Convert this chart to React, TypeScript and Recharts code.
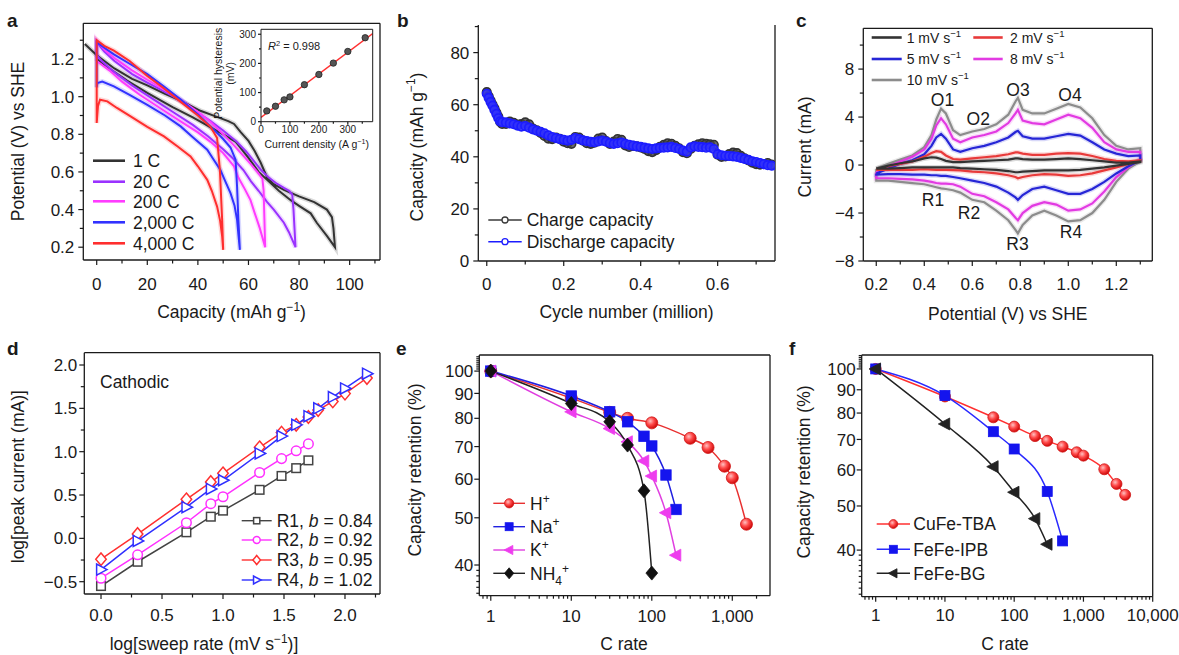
import { LineChart, Line, XAxis, YAxis } from 'recharts'

const FONT = '"Liberation Sans", Arial, Helvetica, sans-serif'
const INK = '#1a1a1a'

// ---------- a: voltage profiles, each a loop (upper branch, then lower branch back) ----------
const cap1C = [-4.7, 0, 7, 14, 20, 27, 33, 41, 47, 52, 54.3, 57, 60, 62.5, 64.8, 67.4, 70, 74, 80, 86, 91, 93, 93.6, 94.2, 91, 87, 84.6, 80, 76.7, 72, 68, 64, 60, 55, 50, 44, 38, 30, 20, 12, 5, 0]
const v1C = [1.28, 1.22, 1.15, 1.095, 1.06, 1.015, 0.98, 0.925, 0.895, 0.87, 0.855, 0.81, 0.765, 0.71, 0.65, 0.57, 0.535, 0.505, 0.47, 0.44, 0.4, 0.36, 0.3, 0.2, 0.26, 0.33, 0.38, 0.42, 0.45, 0.5, 0.55, 0.6, 0.675, 0.76, 0.8, 0.845, 0.89, 0.945, 1.02, 1.085, 1.15, 1.2]
const cap20C = [0, 0, 3, 7, 14, 20, 27, 33, 40, 45, 50, 55, 59, 62, 65, 68, 71, 74, 76, 77.3, 77.8, 78.2, 78.6, 76, 74, 70, 67.4, 64, 61, 58, 54, 50, 44, 38, 30, 22, 14, 7, 2, 0]
const v20C = [1.22, 1.29, 1.24, 1.19, 1.12, 1.075, 1.025, 0.98, 0.915, 0.87, 0.82, 0.765, 0.71, 0.66, 0.61, 0.57, 0.54, 0.515, 0.5, 0.48, 0.4, 0.3, 0.2, 0.28, 0.33, 0.4, 0.44, 0.5, 0.55, 0.61, 0.67, 0.72, 0.79, 0.85, 0.92, 0.99, 1.06, 1.13, 1.19, 1.22]
const cap200C = [0, 0, 3, 7, 14, 20, 27, 33, 40, 45, 50, 54, 58, 61, 63.5, 65.5, 66, 66.3, 66.6, 64.5, 62.5, 60.8, 58.5, 56, 54.3, 50, 45, 40, 33, 25, 17, 10, 5, 0]
const v200C = [1.19, 1.3, 1.25, 1.205, 1.14, 1.09, 1.035, 0.985, 0.92, 0.865, 0.8, 0.745, 0.685, 0.64, 0.6, 0.565, 0.5, 0.35, 0.2, 0.3, 0.38, 0.45, 0.51, 0.57, 0.63, 0.7, 0.76, 0.81, 0.87, 0.94, 1.01, 1.08, 1.14, 1.19]
const cap2000C = [0, 0, 3, 6.8, 13, 20, 27, 33.2, 40, 46.3, 50, 52.9, 54.9, 55.5, 56, 56.6, 56, 55.5, 54.5, 52.9, 50.5, 48.9, 46, 43.7, 38, 33.2, 27, 20, 13, 6.8, 2.2, 0.3, 0]
const v2000C = [1.05, 1.29, 1.26, 1.225, 1.175, 1.12, 1.05, 0.985, 0.905, 0.825, 0.775, 0.73, 0.665, 0.52, 0.35, 0.186, 0.27, 0.345, 0.42, 0.487, 0.56, 0.611, 0.67, 0.718, 0.785, 0.842, 0.9, 0.957, 1.01, 1.055, 1.08, 1.072, 1.05]
const cap4000C = [0, 0, 3, 6.8, 13, 20, 26, 33, 40, 45, 47.6, 48.7, 49.6, 50, 49.6, 48.8, 47.6, 45.5, 43.7, 40, 37.1, 32, 26.6, 20, 13.4, 8, 4.2, 1.3, 0.5, 0]
const v4000C = [0.86, 1.3, 1.27, 1.245, 1.19, 1.11, 1.05, 0.975, 0.9, 0.84, 0.78, 0.61, 0.345, 0.186, 0.257, 0.34, 0.416, 0.5, 0.558, 0.63, 0.682, 0.735, 0.789, 0.84, 0.895, 0.94, 0.975, 0.984, 0.95, 0.86]

// inset: hysteresis vs current density
const insetJ = [20, 50, 80, 100, 150, 200, 250, 300, 360]
const insetH = [37, 53, 75, 85, 127, 162, 201, 241, 288]
const fitJ = [0, 386]
const fitH = [15, 302]

// ---------- b: cycling ----------
const bCycle = [0, 0.005, 0.01, 0.015, 0.02, 0.025, 0.03, 0.035, 0.04, 0.05, 0.06, 0.07, 0.08, 0.09, 0.1, 0.11, 0.12, 0.13, 0.14, 0.15, 0.16, 0.17, 0.18, 0.19, 0.2, 0.21, 0.22, 0.23, 0.24, 0.25, 0.26, 0.27, 0.28, 0.29, 0.3, 0.31, 0.32, 0.33, 0.34, 0.35, 0.36, 0.37, 0.38, 0.39, 0.4, 0.41, 0.42, 0.43, 0.44, 0.45, 0.46, 0.47, 0.48, 0.49, 0.5, 0.51, 0.52, 0.53, 0.54, 0.55, 0.56, 0.57, 0.58, 0.59, 0.6, 0.61, 0.62, 0.63, 0.64, 0.65, 0.66, 0.67, 0.68, 0.69, 0.7, 0.71, 0.72, 0.73, 0.74]
const bCharge = [64.8, 63.2, 61.6, 60.0, 58.6, 57.0, 55.4, 53.4, 52.6,
  52.6, 53.5, 53.0, 52.4, 52.6, 53.2, 52.5, 50.8, 50.2, 49.2,
  48.0, 47.0, 46.8, 47.4, 46.9, 45.8, 45.2, 45.0, 47.6, 47.4,
  46.2, 45.2, 45.0, 45.4, 47.0, 47.4, 46.0, 45.0, 45.8, 46.8,
  46.5, 44.4, 43.8, 44.2, 44.0, 43.6, 43.0, 42.2, 41.8, 42.6,
  43.8, 44.6, 45.2, 45.0, 44.2, 43.2, 41.8, 41.4, 43.0, 44.2,
  44.8, 45.2, 45.0, 44.8, 44.6, 40.8, 40.0, 40.2, 41.0, 41.6,
  41.4, 40.4, 39.4, 38.6, 37.8, 37.2, 37.0, 37.2, 37.6, 37.0]
const bDischarge = [64.2, 62.6, 61.0, 59.6, 58.0, 56.4, 54.8, 53.6, 53.3,
  53.2, 52.8, 52.5, 52.0, 51.6, 51.8, 51.2, 50.5, 50.0, 49.6,
  49.0, 48.2, 47.6, 47.2, 46.8, 46.5, 46.2, 46.5, 47.2, 46.8,
  46.3, 46.0, 45.7, 45.6, 45.9, 46.2, 45.8, 45.3, 45.0, 45.2,
  45.5, 45.0, 44.6, 44.3, 44.0, 43.8, 43.5, 43.2, 43.0, 43.2,
  43.4, 43.5, 43.6, 43.8, 43.4, 43.0, 42.4, 42.0, 43.6, 44.0,
  43.8, 43.7, 43.5, 43.6, 43.0, 41.0, 40.6, 40.4, 40.3, 40.2,
  40.0, 39.6, 39.2, 38.8, 38.3, 38.0, 37.6, 37.2, 36.8, 36.6]

// ---------- c: CV, anodic (up) and cathodic (dn) currents on one potential grid ----------
const cvV = [0.2, 0.25, 0.3, 0.35, 0.4, 0.43, 0.45, 0.47, 0.49, 0.52, 0.55, 0.6, 0.65, 0.7, 0.75, 0.78, 0.79, 0.81, 0.85, 0.9, 0.95, 1.0, 1.05, 1.1, 1.15, 1.2, 1.25, 1.3]
const cv1Up = [-0.3, -0.05, 0.15, 0.3, 0.55, 0.65, 0.62, 0.5, 0.35, 0.25, 0.25, 0.3, 0.35, 0.4, 0.45, 0.55, 0.55, 0.5, 0.45, 0.45, 0.5, 0.55, 0.5, 0.4, 0.3, 0.2, 0.2, 0.3]
const cv1Dn = [-0.3, -0.3, -0.25, -0.2, -0.2, -0.2, -0.2, -0.2, -0.2, -0.2, -0.25, -0.3, -0.35, -0.4, -0.5, -0.6, -0.6, -0.55, -0.5, -0.45, -0.45, -0.45, -0.4, -0.3, -0.2, -0.05, 0.1, 0.25]
const cv2Up = [-0.4, -0.1, 0.1, 0.3, 0.7, 1.0, 1.15, 1.1, 0.8, 0.5, 0.45, 0.55, 0.65, 0.75, 0.9, 1.05, 1.05, 0.95, 0.85, 0.85, 0.95, 1.0, 0.95, 0.75, 0.5, 0.35, 0.3, 0.4]
const cv2Dn = [-0.4, -0.4, -0.4, -0.4, -0.35, -0.38, -0.4, -0.4, -0.4, -0.42, -0.45, -0.55, -0.6, -0.7, -0.85, -1.0, -1.1, -1.0, -0.85, -0.75, -0.8, -0.9, -0.85, -0.7, -0.45, -0.2, 0.1, 0.35]
const cv5Up = [-0.7, -0.3, 0.1, 0.4, 0.9, 1.6, 2.3, 2.6, 2.2, 1.3, 1.1, 1.4, 1.6, 1.9, 2.3, 2.75, 2.85, 2.4, 2.2, 2.2, 2.4, 2.6, 2.45, 1.9, 1.3, 0.95, 0.75, 0.8]
const cv5Dn = [-0.8, -0.75, -0.75, -0.8, -0.8, -0.85, -0.85, -0.9, -0.9, -1.0, -1.1, -1.3, -1.5, -1.8, -2.3, -2.7, -2.9, -2.5, -2.0, -1.8, -2.1, -2.4, -2.4, -2.0, -1.4, -0.7, -0.1, 0.4]
const cv8Up = [-0.6, -0.1, 0.3, 0.7, 1.3, 2.2, 3.3, 3.9, 3.4, 2.2, 1.9, 2.3, 2.5, 2.8, 3.5, 4.3, 4.6, 3.7, 3.5, 3.4, 3.8, 4.2, 3.9, 3.1, 1.9, 1.3, 1.1, 1.1]
const cv8Dn = [-1.1, -1.1, -1.15, -1.2, -1.3, -1.4, -1.5, -1.55, -1.55, -1.6, -1.8, -2.4, -2.6, -3.1, -3.7, -4.4, -4.6, -4.0, -3.4, -3.1, -3.3, -3.8, -3.7, -3.2, -2.2, -1.0, -0.2, 0.5]
const cv10Up = [-0.3, 0.1, 0.45, 0.8, 1.5, 2.5, 3.8, 4.7, 4.3, 2.9, 2.5, 2.8, 3.0, 3.4, 4.2, 5.3, 5.6, 4.6, 4.3, 4.3, 4.7, 5.1, 4.8, 3.9, 2.5, 1.6, 1.3, 1.4]
const cv10Dn = [-1.3, -1.3, -1.4, -1.5, -1.6, -1.75, -1.85, -1.95, -2.0, -2.1, -2.3, -2.9, -3.1, -3.8, -4.6, -5.4, -5.7, -5.0, -4.2, -3.8, -4.2, -4.7, -4.6, -4.0, -2.9, -1.4, -0.3, 0.3]

// ---------- d: log peak current vs log sweep rate ----------
const dLogRate = [0, 0.3, 0.7, 0.9, 1.0, 1.3, 1.48, 1.6, 1.7, 1.78, 1.9, 2.0, 2.18]
const dR1 = [-0.55, -0.27, 0.07, 0.25, 0.32, 0.56, 0.72, 0.81, 0.9]
const dR2 = [-0.46, -0.19, 0.18, 0.4, 0.48, 0.76, 0.92, 1.01, 1.09]
const dR3 = [-0.24, 0.05, 0.45, 0.65, 0.75, 1.05, 1.22, 1.31, 1.4, 1.48, 1.58, 1.67, 1.85]
const dR4 = [-0.36, -0.03, 0.36, 0.57, 0.67, 0.98, 1.18, 1.31, 1.41, 1.5, 1.63, 1.73, 1.9]

// ---------- e: rate capability by cation ----------
const eRateH = [1, 10, 30, 50, 100, 300, 500, 800, 1000, 1500]
const eH = [100, 88, 82.3, 80, 78.3, 72.8, 69.7, 63.8, 60.4, 48.5]
const eRateNa = [1, 10, 30, 50, 80, 100, 150, 200]
const eNa = [100, 88.9, 82.5, 78.7, 73.5, 70.2, 61.2, 52.0]
const eRateK = [1, 10, 30, 50, 80, 100, 150, 200]
const eK = [100, 82.5, 76.2, 71.6, 65.4, 60.9, 51.2, 41.9]
const eRateNH4 = [1, 10, 30, 50, 80, 100]
const eNH4 = [100, 85.8, 78.7, 70.5, 56.8, 38.5]

// ---------- f: rate capability by material ----------
const fRateCu = [1, 10, 50, 100, 200, 300, 500, 800, 1000, 2000, 3000, 4000]
const fCu = [100, 87, 78.3, 74.7, 71.2, 69.5, 67.5, 65.6, 64.5, 60.2, 55.9, 52.9]
const fRateIPB = [1, 10, 50, 100, 300, 500]
const fIPB = [100, 87.4, 72.8, 66.7, 53.8, 41.9]
const fRateBG = [1, 10, 50, 100, 200, 300]
const fBG = [100, 75.7, 61.0, 53.6, 46.9, 41.2]

// ---------- ticks ----------
const aXTicks = [0, 10, 20, 30, 40, 50, 60, 70, 80, 90, 100, 110]
const aXLabels = [0, 20, 40, 60, 80, 100]
const aYTicks = [0.2, 0.3, 0.4, 0.5, 0.6, 0.7, 0.8, 0.9, 1.0, 1.1, 1.2, 1.3]
const aYLabels = [0.2, 0.4, 0.6, 0.8, 1.0, 1.2]
const inXTicks = [0, 50, 100, 150, 200, 250, 300, 350]
const inYTicks = [0, 50, 100, 150, 200, 250, 300]
const inLabels = [0, 100, 200, 300]
const bXTicks = [0, 0.1, 0.2, 0.3, 0.4, 0.5, 0.6, 0.7]
const bXLabels = [0, 0.2, 0.4, 0.6]
const bYTicks = [0, 10, 20, 30, 40, 50, 60, 70, 80, 90]
const bYLabels = [0, 20, 40, 60, 80]
const cXTicks = [0.2, 0.3, 0.4, 0.5, 0.6, 0.7, 0.8, 0.9, 1.0, 1.1, 1.2, 1.3]
const cXLabels = [0.2, 0.4, 0.6, 0.8, 1.0, 1.2]
const cYTicks = [-8, -6, -4, -2, 0, 2, 4, 6, 8, 10]
const cYLabels = [-8, -4, 0, 4, 8]
const dXTicks = [0, 0.25, 0.5, 0.75, 1.0, 1.25, 1.5, 1.75, 2.0, 2.25]
const dXLabels = [0, 0.5, 1.0, 1.5, 2.0]
const dYTicks = [-0.5, -0.25, 0, 0.25, 0.5, 0.75, 1.0, 1.25, 1.5, 1.75, 2.0]
const dYLabels = [-0.5, 0, 0.5, 1.0, 1.5, 2.0]
const eXTicks = [0.8, 0.9, 1, 2, 3, 4, 5, 6, 7, 8, 9, 10, 20, 30, 40, 50, 60, 70, 80, 90, 100, 200, 300, 400, 500, 600, 700, 800, 900, 1000, 2000]
const eXLabels = [1, 10, 100, 1000]
const eYTicks = [35, 36, 37, 38, 39, 40, 50, 60, 70, 80, 90, 100, 101, 102, 103, 104, 105, 106, 107]
const fXTicks = [0.7, 0.8, 0.9, 1, 2, 3, 4, 5, 6, 7, 8, 9, 10, 20, 30, 40, 50, 60, 70, 80, 90, 100, 200, 300, 400, 500, 600, 700, 800, 900, 1000, 2000, 3000, 4000, 5000, 6000, 7000, 8000, 9000, 10000]
const fXLabels = [1, 10, 100, 1000, 10000]
const fYTicks = [32, 33, 34, 35, 36, 37, 38, 39, 40, 50, 60, 70, 80, 90, 100, 101, 102, 103, 104, 105, 106, 107]
const retLabels = [40, 50, 60, 70, 80, 90, 100]

type Pt = { x: number; y: number }
const zip = (xs: number[], ys: number[]): Pt[] => xs.map((x, i) => ({ x, y: ys[i] }))
const cvLoop = (up: number[], dn: number[]): Pt[] => [...zip(cvV, up), ...zip(cvV, dn).reverse(), { x: cvV[0], y: up[0] }]

const minus = (s: string) => s.replace('-', '\u2212')
const f1 = (v: number) => minus(v.toFixed(1))
const fInt = (v: number) => minus(String(v))
const fComma = (v: number) => v.toLocaleString('en-US')

type TickCfg = { side: 'bottom' | 'left'; labels: number[]; fmt?: (v: number) => string; fs?: number; gap?: number; len?: number; minor?: number }
function mkTick(c: TickCfg) {
  const fs = c.fs ?? 17
  const len = c.len ?? 5
  const minor = c.minor ?? 3.5
  const fmt = c.fmt ?? fInt
  return (p: any) => {
    const v = p.payload.value
    const major = c.labels.some((m) => Math.abs(m - v) < 1e-6 * Math.max(1, Math.abs(m)))
    const L = major ? len : minor
    if (c.side === 'bottom') {
      return (
        <g>
          <line x1={p.x} x2={p.x} y1={p.y} y2={p.y + L} stroke={INK} strokeWidth={1.2} />
          {major && (
            <text x={p.x} y={p.y + (c.gap ?? 29)} textAnchor="middle" fontSize={fs} fontFamily={FONT} fill={INK}>
              {fmt(v)}
            </text>
          )}
        </g>
      )
    }
    return (
      <g>
        <line x1={p.x - L} x2={p.x} y1={p.y} y2={p.y} stroke={INK} strokeWidth={1.2} />
        {major && (
          <text x={p.x - (c.gap ?? 9)} y={p.y + fs * 0.36} textAnchor="end" fontSize={fs} fontFamily={FONT} fill={INK}>
            {fmt(v)}
          </text>
        )}
      </g>
    )
  }
}

const axisLine = { stroke: INK, strokeWidth: 1.3 }

function boxAxes(withTop: boolean) {
  const out = []
  if (withTop) {
    out.push(<XAxis key="bt" xAxisId="bt" orientation="top" mirror type="number" domain={[0, 1]} tick={false} tickLine={false} axisLine={axisLine} />)
  }
  out.push(<YAxis key="br" yAxisId="br" orientation="right" mirror type="number" domain={[0, 1]} tick={false} tickLine={false} axisLine={axisLine} />)
  return out
}

type Shape = 'circle' | 'square' | 'diamond' | 'triR' | 'triL'
type MkStyle = { shape: Shape; r: number; stroke: string; fill: string; sw?: number }
function Mk({ cx, cy, shape, r, stroke, fill, sw = 1.5 }: MkStyle & { cx?: number; cy?: number }) {
  if (cx == null || cy == null) return null
  const common = { stroke, fill, strokeWidth: sw }
  if (shape === 'circle') return <circle cx={cx} cy={cy} r={r} {...common} />
  if (shape === 'square') return <rect x={cx - r} y={cy - r} width={2 * r} height={2 * r} {...common} />
  if (shape === 'diamond') return <polygon points={`${cx},${cy - r * 1.25} ${cx + r * 1.05},${cy} ${cx},${cy + r * 1.25} ${cx - r * 1.05},${cy}`} {...common} />
  if (shape === 'triR') return <polygon points={`${cx + r * 1.1},${cy} ${cx - r * 0.8},${cy - r} ${cx - r * 0.8},${cy + r}`} {...common} />
  return <polygon points={`${cx - r * 1.1},${cy} ${cx + r * 0.8},${cy - r} ${cx + r * 0.8},${cy + r}`} {...common} />
}
const dotOf = (m: MkStyle) => (p: any) => <Mk key={`d${p.index}`} cx={p.cx} cy={p.cy} {...m} />

// colours / marker styles
const colA = { c1: '#333333', c20: '#9a32ff', c200: '#ff3cff', c2000: '#3232ff', c4000: '#ff2e2e' }
const colC = { v1: '#333333', v2: '#e83a3a', v5: '#2626d6', v8: '#e23ae2', v10: '#8c8c8c' }
const mkD: Record<string, MkStyle> = {
  r1: { shape: 'square', r: 4.3, stroke: '#444444', fill: '#ffffff' },
  r2: { shape: 'circle', r: 4.8, stroke: '#ff30ff', fill: '#ffffff' },
  r3: { shape: 'diamond', r: 5, stroke: '#ff3030', fill: '#ffffff' },
  r4: { shape: 'triR', r: 5.5, stroke: '#3030ff', fill: '#ffffff' },
}
const mkE: Record<string, MkStyle> = {
  h: { shape: 'circle', r: 6, stroke: '#d01818', fill: 'url(#gRed)', sw: 0.8 },
  na: { shape: 'square', r: 5.2, stroke: '#1414ee', fill: '#1414ee', sw: 0.8 },
  k: { shape: 'triL', r: 6, stroke: '#ee3cee', fill: '#ee3cee', sw: 0.8 },
  nh4: { shape: 'diamond', r: 5.6, stroke: '#111111', fill: '#111111', sw: 0.8 },
}
const mkF: Record<string, MkStyle> = {
  cu: { shape: 'circle', r: 5.5, stroke: '#d01818', fill: 'url(#gRed)', sw: 0.8 },
  ipb: { shape: 'square', r: 5, stroke: '#1414ee', fill: '#1414ee', sw: 0.8 },
  bg: { shape: 'triL', r: 6, stroke: '#222222', fill: '#222222', sw: 0.8 },
}
const mkB = {
  charge: { shape: 'circle' as Shape, r: 4.3, stroke: '#333333', fill: 'rgba(70,70,70,0.8)', sw: 1.6 },
  discharge: { shape: 'circle' as Shape, r: 4.3, stroke: '#1c1cff', fill: 'rgba(50,50,255,0.8)', sw: 1.6 },
}
const mkBLeg = {
  charge: { shape: 'circle' as Shape, r: 3, stroke: '#3a3a3a', fill: '#ffffff', sw: 1.3 },
  discharge: { shape: 'circle' as Shape, r: 3, stroke: '#1c1cff', fill: '#ffffff', sw: 1.3 },
}

const pos = (left: number, top: number): React.CSSProperties => ({ position: 'absolute', left, top })

// soft halo drawn under a curve, like the blurred originals
const halo = (data: Pt[], color: string, key: string) => (
  <Line key={key} data={data} dataKey="y" stroke={color} strokeOpacity={0.18} strokeWidth={5} dot={false} isAnimationActive={false} />
)

function PanelA() {
  const series = [
    { d: zip(cap1C, v1C), c: colA.c1 },
    { d: zip(cap20C, v20C), c: colA.c20 },
    { d: zip(cap200C, v200C), c: colA.c200 },
    { d: zip(cap2000C, v2000C), c: colA.c2000 },
    { d: zip(cap4000C, v4000C), c: colA.c4000 },
  ]
  return (
    <div style={pos(0, 0)}>
      <LineChart width={395} height={330} margin={{ top: 23.3, right: 15, bottom: 30, left: 33.3 }}>
        <XAxis type="number" dataKey="x" domain={[-5.3, 112]} allowDataOverflow ticks={aXTicks} interval={0} height={40} tickSize={0} tickMargin={0} tickLine={false} axisLine={axisLine} tick={mkTick({ side: 'bottom', labels: aXLabels, gap: 30 })} />
        <YAxis type="number" domain={[0.132, 1.39]} allowDataOverflow ticks={aYTicks} interval={0} width={50} tickSize={0} tickMargin={0} tickLine={false} axisLine={axisLine} tick={mkTick({ side: 'left', labels: aYLabels, fmt: f1 })} />
        {boxAxes(true)}
        {series.map((s, i) => halo(s.d, s.c, `h${i}`))}
        {series.map((s, i) => (
          <Line key={`l${i}`} data={s.d} dataKey="y" stroke={s.c} strokeWidth={2} dot={false} isAnimationActive={false} />
        ))}
      </LineChart>
    </div>
  )
}

function InsetA() {
  return (
    <div style={pos(200, 20)}>
      <LineChart width={185} height={145} margin={{ top: 9.3, right: 12.3, bottom: 29.3, left: 31 }}>
        <XAxis type="number" dataKey="x" domain={[0, 386]} allowDataOverflow ticks={inXTicks} interval={0} height={14} tickSize={0} tickMargin={0} tickLine={false} axisLine={{ stroke: INK, strokeWidth: 1 }} tick={mkTick({ side: 'bottom', labels: inLabels, fs: 10, gap: 11, len: 3, minor: 2 })} />
        <YAxis type="number" domain={[0, 317]} allowDataOverflow ticks={inYTicks} interval={0} width={30} tickSize={0} tickMargin={0} tickLine={false} axisLine={{ stroke: INK, strokeWidth: 1 }} tick={mkTick({ side: 'left', labels: inLabels, fs: 10, gap: 5, len: 3, minor: 2 })} />
        <XAxis xAxisId="bt" orientation="top" mirror type="number" domain={[0, 1]} tick={false} tickLine={false} axisLine={{ stroke: INK, strokeWidth: 1 }} />
        <YAxis yAxisId="br" orientation="right" mirror type="number" domain={[0, 1]} tick={false} tickLine={false} axisLine={{ stroke: INK, strokeWidth: 1 }} />
        <Line data={zip(fitJ, fitH)} dataKey="y" stroke="#ff3030" strokeWidth={1.4} dot={false} isAnimationActive={false} />
        <Line data={zip(insetJ, insetH)} dataKey="y" stroke="none" dot={dotOf({ shape: 'circle', r: 3.2, stroke: '#222', fill: '#555', sw: 0.8 })} isAnimationActive={false} />
      </LineChart>
    </div>
  )
}

function PanelB() {
  return (
    <div style={pos(395, 0)}>
      <LineChart width={390} height={330} margin={{ top: 25, right: 10, bottom: 29, left: 33.3 }}>
        <XAxis type="number" dataKey="x" domain={[-0.022, 0.749]} allowDataOverflow ticks={bXTicks} interval={0} height={40} tickSize={0} tickMargin={0} tickLine={false} axisLine={axisLine} tick={mkTick({ side: 'bottom', labels: bXLabels, gap: 29, fmt: (v) => (v === 0 ? '0' : v.toFixed(1)) })} />
        <YAxis type="number" domain={[0, 90.6]} allowDataOverflow ticks={bYTicks} interval={0} width={50} tickSize={0} tickMargin={0} tickLine={false} axisLine={axisLine} tick={mkTick({ side: 'left', labels: bYLabels })} />
        {boxAxes(false)}
        <Line data={zip(bCycle, bCharge)} dataKey="y" stroke="#3a3a3a" strokeWidth={1} dot={dotOf(mkB.charge)} isAnimationActive={false} />
        <Line data={zip(bCycle, bDischarge)} dataKey="y" stroke="#1c1cff" strokeWidth={1} dot={dotOf(mkB.discharge)} isAnimationActive={false} />
      </LineChart>
    </div>
  )
}

function PanelC() {
  const series = [
    { d: cvLoop(cv10Up, cv10Dn), c: colC.v10 },
    { d: cvLoop(cv8Up, cv8Dn), c: colC.v8 },
    { d: cvLoop(cv5Up, cv5Dn), c: colC.v5 },
    { d: cvLoop(cv2Up, cv2Dn), c: colC.v2 },
    { d: cvLoop(cv1Up, cv1Dn), c: colC.v1 },
  ]
  return (
    <div style={pos(785, 0)}>
      <LineChart width={394} height={330} margin={{ top: 28.3, right: 26.7, bottom: 29, left: 28.3 }}>
        <XAxis type="number" dataKey="x" domain={[0.146, 1.35]} allowDataOverflow ticks={cXTicks} interval={0} height={40} tickSize={0} tickMargin={0} tickLine={false} axisLine={axisLine} tick={mkTick({ side: 'bottom', labels: cXLabels, fmt: f1, gap: 29 })} />
        <YAxis type="number" domain={[-8, 11.4]} allowDataOverflow ticks={cYTicks} interval={0} width={50} tickSize={0} tickMargin={0} tickLine={false} axisLine={axisLine} tick={mkTick({ side: 'left', labels: cYLabels })} />
        {boxAxes(true)}
        {series.map((s, i) => halo(s.d, s.c, `h${i}`))}
        {series.map((s, i) => (
          <Line key={`l${i}`} data={s.d} dataKey="y" stroke={s.c} strokeWidth={2.2} dot={false} isAnimationActive={false} />
        ))}
      </LineChart>
    </div>
  )
}

function PanelD() {
  return (
    <div style={pos(0, 330)}>
      <LineChart width={395} height={325} margin={{ top: 22.7, right: 15, bottom: 21, left: 34.3 }}>
        <XAxis type="number" dataKey="x" domain={[-0.137, 2.287]} allowDataOverflow ticks={dXTicks} interval={0} height={40} tickSize={0} tickMargin={0} tickLine={false} axisLine={axisLine} tick={mkTick({ side: 'bottom', labels: dXLabels, fmt: f1, gap: 27 })} />
        <YAxis type="number" domain={[-0.642, 2.142]} allowDataOverflow ticks={dYTicks} interval={0} width={50} tickSize={0} tickMargin={0} tickLine={false} axisLine={axisLine} tick={mkTick({ side: 'left', labels: dYLabels, fmt: f1, gap: 7 })} />
        {boxAxes(true)}
        <Line data={zip(dLogRate, dR1)} dataKey="y" stroke="#444444" strokeWidth={1.5} dot={dotOf(mkD.r1)} isAnimationActive={false} />
        <Line data={zip(dLogRate, dR2)} dataKey="y" stroke="#ff30ff" strokeWidth={1.5} dot={dotOf(mkD.r2)} isAnimationActive={false} />
        <Line data={zip(dLogRate, dR3)} dataKey="y" stroke="#ff3030" strokeWidth={1.5} dot={dotOf(mkD.r3)} isAnimationActive={false} />
        <Line data={zip(dLogRate, dR4)} dataKey="y" stroke="#3030ff" strokeWidth={1.5} dot={dotOf(mkD.r4)} isAnimationActive={false} />
      </LineChart>
    </div>
  )
}

function PanelE() {
  return (
    <div style={pos(395, 330)}>
      <LineChart width={390} height={325} margin={{ top: 25, right: 15, bottom: 19.3, left: 34.3 }}>
        <XAxis type="number" dataKey="x" scale="log" domain={[0.72, 2940]} allowDataOverflow ticks={eXTicks} interval={0} height={40} tickSize={0} tickMargin={0} tickLine={false} axisLine={axisLine} tick={mkTick({ side: 'bottom', labels: eXLabels, fmt: fComma, gap: 26, minor: 3 })} />
        <YAxis type="number" scale="log" domain={[34.6, 107.9]} allowDataOverflow ticks={eYTicks} interval={0} width={50} tickSize={0} tickMargin={0} tickLine={false} axisLine={axisLine} tick={mkTick({ side: 'left', labels: retLabels, gap: 6, minor: 3 })} />
        {boxAxes(true)}
        <Line data={zip(eRateH, eH)} dataKey="y" type="monotone" stroke="#e83030" strokeWidth={1.5} dot={dotOf(mkE.h)} isAnimationActive={false} />
        <Line data={zip(eRateNa, eNa)} dataKey="y" type="monotone" stroke="#2020e0" strokeWidth={1.5} dot={dotOf(mkE.na)} isAnimationActive={false} />
        <Line data={zip(eRateK, eK)} dataKey="y" type="monotone" stroke="#e040e0" strokeWidth={1.5} dot={dotOf(mkE.k)} isAnimationActive={false} />
        <Line data={zip(eRateNH4, eNH4)} dataKey="y" type="monotone" stroke="#222222" strokeWidth={1.5} dot={dotOf(mkE.nh4)} isAnimationActive={false} />
      </LineChart>
    </div>
  )
}

function PanelF() {
  return (
    <div style={pos(785, 330)}>
      <LineChart width={394} height={325} margin={{ top: 25, right: 26.3, bottom: 18.3, left: 26.7 }}>
        <XAxis type="number" dataKey="x" scale="log" domain={[0.628, 10000]} allowDataOverflow ticks={fXTicks} interval={0} height={40} tickSize={0} tickMargin={0} tickLine={false} axisLine={axisLine} tick={mkTick({ side: 'bottom', labels: fXLabels, fmt: fComma, gap: 24, minor: 3 })} />
        <YAxis type="number" scale="log" domain={[31.6, 107.3]} allowDataOverflow ticks={fYTicks} interval={0} width={50} tickSize={0} tickMargin={0} tickLine={false} axisLine={axisLine} tick={mkTick({ side: 'left', labels: retLabels, gap: 6, minor: 3 })} />
        {boxAxes(true)}
        <Line data={zip(fRateCu, fCu)} dataKey="y" type="monotone" stroke="#ff3030" strokeWidth={1.5} dot={dotOf(mkF.cu)} isAnimationActive={false} />
        <Line data={zip(fRateIPB, fIPB)} dataKey="y" type="monotone" stroke="#2a2aff" strokeWidth={1.5} dot={dotOf(mkF.ipb)} isAnimationActive={false} />
        <Line data={zip(fRateBG, fBG)} dataKey="y" type="monotone" stroke="#222222" strokeWidth={1.5} dot={dotOf(mkF.bg)} isAnimationActive={false} />
      </LineChart>
    </div>
  )
}

const TS = 17.5

function Title({ x, y, rot, fs = TS, anchor = 'middle', weight, children }: any) {
  if (rot) {
    return (
      <text x={x} y={y + fs * 0.36} transform={`rotate(-90 ${x} ${y})`} textAnchor="middle" fontSize={fs} fill={INK}>
        {children}
      </text>
    )
  }
  return (
    <text x={x} y={y} textAnchor={anchor} fontSize={fs} fontWeight={weight} fill={INK}>
      {children}
    </text>
  )
}

function Leg({ x1, x2, y, color, w = 1.5, mk, tx, fs = TS, children }: any) {
  return (
    <g>
      <line x1={x1} x2={x2} y1={y} y2={y} stroke={color} strokeWidth={w} />
      {mk && <Mk cx={(x1 + x2) / 2} cy={y} {...mk} />}
      <text x={tx} y={y + fs * 0.36} fontSize={fs} fill={INK}>
        {children}
      </text>
    </g>
  )
}

const Inv = ({ fs = TS }: { fs?: number }) => (
  <tspan dy={-fs * 0.42} fontSize={fs * 0.68}>
    {'\u22121'}
  </tspan>
)

function Overlay() {
  const cRow = [37.5, 59, 80]
  const aRows = [160.7, 181.7, 201.3, 222.3, 243.3]
  const dRows = [520.7, 540, 560, 580]
  const eRows = [503.3, 526.7, 550, 573.3]
  const fRows = [524, 549.3, 573.3]
  const small = (m: MkStyle, r: number) => ({ ...m, r })
  return (
    <svg width={1179} height={655} style={{ position: 'absolute', left: 0, top: 0, pointerEvents: 'none' }} fontFamily={FONT}>
      <defs>
        <radialGradient id="gRed" cx="38%" cy="35%" r="70%">
          <stop offset="0%" stopColor="#ffc0c0" />
          <stop offset="45%" stopColor="#ff4a4a" />
          <stop offset="100%" stopColor="#c80000" />
        </radialGradient>
      </defs>

      {/* panel letters */}
      <Title x={7} y={26.5} anchor="start" fs={19} weight="bold">a</Title>
      <Title x={397} y={26.5} anchor="start" fs={19} weight="bold">b</Title>
      <Title x={796} y={26.5} anchor="start" fs={19} weight="bold">c</Title>
      <Title x={7} y={355} anchor="start" fs={19} weight="bold">d</Title>
      <Title x={396} y={355} anchor="start" fs={19} weight="bold">e</Title>
      <Title x={789} y={355} anchor="start" fs={19} weight="bold">f</Title>

      {/* axis titles */}
      <Title x={231.5} y={318}>
        Capacity (mAh g<Inv />
        <tspan dy={TS * 0.42}>)</tspan>
      </Title>
      <Title x={17.5} y={141.5} rot>Potential (V) vs SHE</Title>
      <Title x={626.6} y={318}>Cycle number (million)</Title>
      <Title x={416.5} y={147} rot>
        Capacity (mAh g<Inv />
        <tspan dy={TS * 0.42}>)</tspan>
      </Title>
      <Title x={1007.8} y={320}>Potential (V) vs SHE</Title>
      <Title x={804.5} y={147} rot>Current (mA)</Title>
      <Title x={204} y={650}>
        log[sweep rate (mV s<Inv />
        <tspan dy={TS * 0.42}>)]</tspan>
      </Title>
      <Title x={18} y={476.7} rot>log[peak current (mA)]</Title>
      <Title x={624} y={650}>C rate</Title>
      <Title x={415} y={470} rot>Capacity retention (%)</Title>
      <Title x={1005} y={650}>C rate</Title>
      <Title x={804} y={472} rot>Capacity retention (%)</Title>

      {/* inset texts */}
      <Title x={316.7} y={148} fs={10.5}>
        Current density (A g<Inv fs={10.5} />
        <tspan dy={10.5 * 0.42}>)</tspan>
      </Title>
      <Title x={218.3} y={73.3} rot fs={10.5}>Potential hysteresis</Title>
      <Title x={230} y={73.3} rot fs={10.5}>(mV)</Title>
      <text x={268} y={50.3} fontSize={11} fill={INK}>
        <tspan fontStyle="italic">R</tspan>
        <tspan dy={-4.5} fontSize={7.5}>2</tspan>
        <tspan dy={4.5}> = 0.998</tspan>
      </text>

      {/* panel a legend */}
      {[
        { c: colA.c1, t: '1 C' },
        { c: colA.c20, t: '20 C' },
        { c: colA.c200, t: '200 C' },
        { c: colA.c2000, t: '2,000 C' },
        { c: colA.c4000, t: '4,000 C' },
      ].map((r, i) => (
        <Leg key={r.t} x1={93} x2={125} y={aRows[i]} color={r.c} w={2.6} tx={133}>
          {r.t}
        </Leg>
      ))}

      {/* panel b legend */}
      <Leg x1={488.3} x2={521.7} y={220} color="#3a3a3a" w={1.4} mk={mkBLeg.charge} tx={526.7}>
        Charge capacity
      </Leg>
      <Leg x1={488.3} x2={521.7} y={241.7} color="#1c1cff" w={1.4} mk={mkBLeg.discharge} tx={526.7}>
        Discharge capacity
      </Leg>

      {/* panel c legend + peak labels */}
      {[
        { x1: 871.7, x2: 901.7, tx: 906.7, y: cRow[0], c: colC.v1, t: '1' },
        { x1: 973.3, x2: 1002.7, tx: 1010, y: cRow[0], c: colC.v2, t: '2' },
        { x1: 871.7, x2: 901.7, tx: 906.7, y: cRow[1], c: colC.v5, t: '5' },
        { x1: 973.3, x2: 1002.7, tx: 1010, y: cRow[1], c: colC.v8, t: '8' },
        { x1: 871.7, x2: 901.7, tx: 906.7, y: cRow[2], c: colC.v10, t: '10' },
      ].map((r) => (
        <Leg key={r.t} x1={r.x1} x2={r.x2} y={r.y} color={r.c} w={2.6} tx={r.tx} fs={14}>
          {r.t} mV s<Inv fs={14} />
        </Leg>
      ))}
      <Title x={942.5} y={106}>O1</Title>
      <Title x={978.3} y={124.5}>O2</Title>
      <Title x={1018} y={95.5}>O3</Title>
      <Title x={1070} y={101}>O4</Title>
      <Title x={933} y={206}>R1</Title>
      <Title x={969} y={218.5}>R2</Title>
      <Title x={1017.5} y={249.5}>R3</Title>
      <Title x={1071} y={238}>R4</Title>

      {/* panel d */}
      <Title x={100} y={387.5} anchor="start">Cathodic</Title>
      {[
        { c: '#444444', m: mkD.r1, n: 'R1', b: '0.84' },
        { c: '#ff30ff', m: mkD.r2, n: 'R2', b: '0.92' },
        { c: '#ff3030', m: mkD.r3, n: 'R3', b: '0.95' },
        { c: '#3030ff', m: mkD.r4, n: 'R4', b: '1.02' },
      ].map((r, i) => (
        <Leg key={r.n} x1={241.7} x2={271.7} y={dRows[i]} color={r.c} w={1.4} mk={small(r.m, r.m.r * 0.72)} tx={276.7}>
          {r.n}, <tspan fontStyle="italic">b</tspan> = {r.b}
        </Leg>
      ))}

      {/* panel e legend */}
      <Leg x1={493.3} x2={525} y={eRows[0]} color="#e83030" w={1.4} mk={small(mkE.h, 4.6)} tx={530}>
        H<tspan dy={-7} fontSize={12}>+</tspan>
      </Leg>
      <Leg x1={493.3} x2={525} y={eRows[1]} color="#2020e0" w={1.4} mk={small(mkE.na, 4)} tx={530}>
        Na<tspan dy={-7} fontSize={12}>+</tspan>
      </Leg>
      <Leg x1={493.3} x2={525} y={eRows[2]} color="#e040e0" w={1.4} mk={small(mkE.k, 4.6)} tx={530}>
        K<tspan dy={-7} fontSize={12}>+</tspan>
      </Leg>
      <Leg x1={493.3} x2={525} y={eRows[3]} color="#222222" w={1.4} mk={small(mkE.nh4, 4.4)} tx={530}>
        NH<tspan dy={5} fontSize={12}>4</tspan>
        <tspan dy={-12} fontSize={12}>+</tspan>
      </Leg>

      {/* panel f legend */}
      <Leg x1={876.7} x2={910} y={fRows[0]} color="#ff3030" w={1.4} mk={small(mkF.cu, 4.4)} tx={913.3}>
        CuFe-TBA
      </Leg>
      <Leg x1={876.7} x2={910} y={fRows[1]} color="#2a2aff" w={1.4} mk={small(mkF.ipb, 4)} tx={913.3}>
        FeFe-IPB
      </Leg>
      <Leg x1={876.7} x2={910} y={fRows[2]} color="#222222" w={1.4} mk={small(mkF.bg, 4.6)} tx={913.3}>
        FeFe-BG
      </Leg>
    </svg>
  )
}

export default function App() {
  return (
    <div style={{ position: 'absolute', left: 0, top: 0, width: 1179, height: 655, background: '#fff', overflow: 'hidden', fontFamily: FONT }}>
      <PanelA />
      <InsetA />
      <PanelB />
      <PanelC />
      <PanelD />
      <PanelE />
      <PanelF />
      <Overlay />
    </div>
  )
}
